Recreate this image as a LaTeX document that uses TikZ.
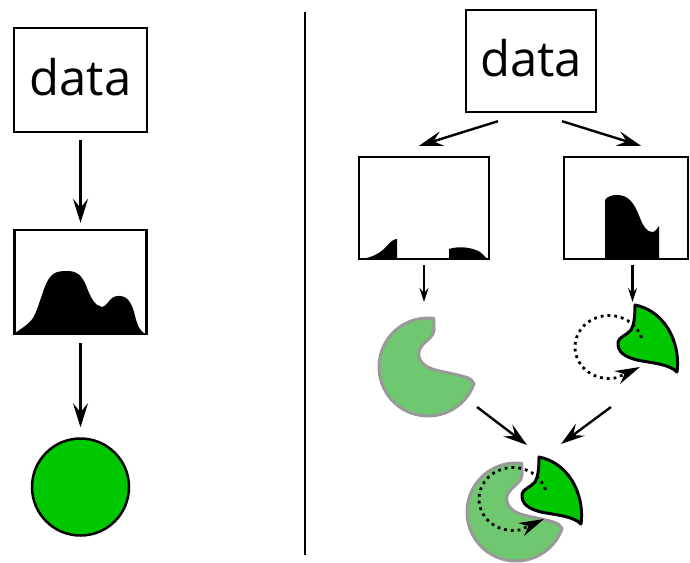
\documentclass[tikz,border=0pt]{standalone}
\usepackage{fontspec}
\setmainfont{Open Sans}
\usetikzlibrary{arrows.meta}
\definecolor{keygreen}{RGB}{0,200,0}
\definecolor{lockgreen}{RGB}{111,200,111}
\definecolor{lockrim}{RGB}{153,153,153}

\begin{document}
\begin{tikzpicture}[x=1pt, y=-1pt,
        databox/.style={draw, line width=2.4pt, inner sep=0pt},
        datatext/.style={font=\fontsize{49}{55}\selectfont, text depth=7pt},
        flow/.style={line width=2.4pt, -{Stealth[length=24pt,width=15pt,inset=9pt]}},
        minor flow/.style={line width=2.2pt, -{Stealth[length=14pt,width=9pt,inset=5pt]}},
        twist/.style={line width=2.8pt, dash pattern=on 2.8pt off 4pt, -{Stealth[length=25pt,width=14pt,inset=8pt]}},
        socket/.pic={
            \path[fill=lockgreen, draw=lockrim, line width=3pt, line join=round]
                (20:49) arc[start angle=20, end angle=277, radius=49] -- (6,-37)
                .. controls (6,-30) and (-2,-27) .. (-7,-20)
                .. controls (-12,-13) and (-9,-3) .. (3,1.5)
                .. controls (12,5) and (30,7) .. (40,11)
                .. controls (44,13) and (45,15) .. (20:49) -- cycle;
        },
        plug/.pic={
            \path[fill=keygreen, draw=black, line width=3pt, line join=round]
                (26,-42) .. controls (53,-37) and (72,-8) .. (68,25)
                .. controls (60,17) and (43,16) .. (28,13)
                .. controls (16,10) and (8,5) .. (9,-5)
                .. controls (10,-10) and (18,-12) .. (22,-17)
                .. controls (25,-22) and (26,-30) .. (26,-42) -- cycle;
            \draw[twist] (32.5,-9.2) arc[start angle=-17, end angle=-283, x radius=34, y radius=31.5] -- (31,20);
        }]
    \useasboundingbox (0,0) rectangle (690,562);

    \node[databox, datatext, minimum width=133pt, minimum height=104pt] (data1) at (80.5,80) {data};
    \node[databox, minimum width=132pt, minimum height=104pt] (hist1) at (80.5,282) {};
    \node[circle, draw, fill=keygreen, line width=2.5pt, minimum size=97pt, inner sep=0pt] (goal) at (80.5,487) {};

    \fill (15,334) -- (15,333) .. controls (22,328) and (28,325) .. (33,318)
        .. controls (38,310) and (42,292) .. (47,282) .. controls (52,272) and (58,271) .. (67,271)
        .. controls (76,271) and (82,274) .. (87,288) .. controls (91,298) and (95,306) .. (102,307)
        .. controls (107,307) and (109,297) .. (117,296) .. controls (127,295) and (131,302) .. (134,312)
        .. controls (137,324) and (139,331) .. (146,334) -- cycle;

    \draw[flow, shorten <=7pt, shorten >=6pt] (data1) -- (hist1);
    \draw[flow, shorten <=8pt, shorten >=10pt] (hist1) -- (goal);

    \draw[line width=2.6pt] (305,12) -- (305,555);

    \node[databox, datatext, minimum width=130pt, minimum height=102pt] (data2) at (531,61) {data};
    \node[databox, minimum width=130pt, minimum height=102pt] (hist2) at (424,208) {};
    \node[databox, minimum width=124pt, minimum height=102pt] (hist3) at (626,208) {};

    \fill (360,259) .. controls (372,258) and (380,253) .. (386,247)
        .. controls (391,241) and (394,239) .. (397,239) -- (397,259) -- cycle;
    \fill (449,259) -- (449,249) .. controls (458,246) and (472,247) .. (480,252)
        .. controls (484,255) and (485,258) .. (489,259) -- cycle;
    \fill (605,259) -- (605,200) .. controls (608,196) and (612,195) .. (617,195)
        .. controls (628,195) and (634,202) .. (640,218) .. controls (643,226) and (647,232) .. (652,232)
        .. controls (655,232) and (657,229) .. (659,226) -- (659,259) -- cycle;

    \coordinate (lockA) at (428,367);
    \coordinate (keyA) at (609,347);
    \coordinate (lockB) at (516,512);
    \coordinate (keyB) at (513,499);

    \pic at (lockA) {socket};
    \pic at (keyA) {plug};
    \pic at (lockB) {socket};
    \pic at (keyB) {plug};

    \draw[flow] ([shift={(-33,8)}]data2.south) -- ([shift={(-5,-10)}]hist2.north);
    \draw[flow] ([shift={(31,8)}]data2.south) -- ([shift={(15,-10)}]hist3.north);
    \draw[minor flow] ([shift={(0,5)}]hist2.south) -- ([shift={(-4,-65)}]lockA);
    \draw[minor flow] ([shift={(6.5,5)}]hist3.south) -- ([shift={(23.5,-45)}]keyA);
    \draw[flow] ([shift={(49,40)}]lockA) -- ([shift={(11,-67)}]lockB);
    \draw[flow] ([shift={(2,60)}]keyA) -- ([shift={(48,-55)}]keyB);
\end{tikzpicture}
\end{document}
